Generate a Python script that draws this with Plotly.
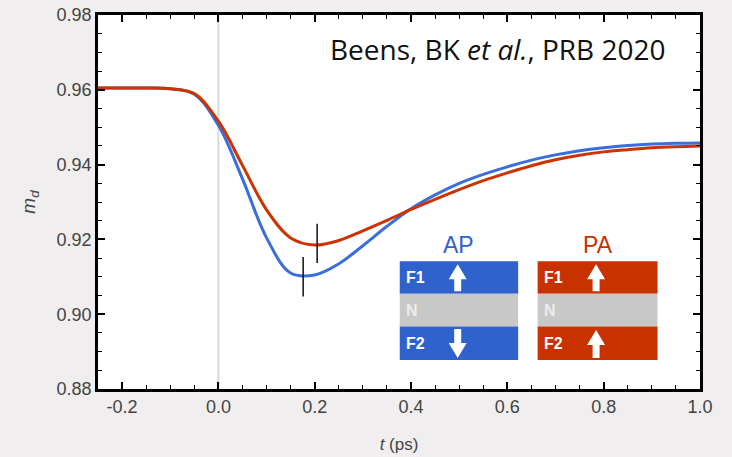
import plotly.graph_objects as go

# ---- data ----
t_ap = [-0.25, -0.20, -0.15, -0.10, -0.05, 0.00, 0.05, 0.10, 0.15, 0.20, 0.25, 0.30, 0.35,
        0.40, 0.45, 0.50, 0.55, 0.60, 0.65, 0.70, 0.75, 0.80, 0.85, 0.90, 0.95, 1.00]
m_ap = [0.9605, 0.9605, 0.9605, 0.9603, 0.9588, 0.9505, 0.9362, 0.9204, 0.9110, 0.9105, 0.9135, 0.9183,
        0.9235, 0.9282, 0.9319, 0.9350, 0.9374, 0.9394, 0.9412, 0.9426, 0.9437, 0.9445, 0.9451, 0.9455,
        0.9457, 0.9458]
t_pa = [-0.25, -0.20, -0.15, -0.10, -0.05, 0.00, 0.05, 0.10, 0.15, 0.20, 0.25, 0.30, 0.35,
        0.40, 0.45, 0.50, 0.55, 0.60, 0.65, 0.70, 0.75, 0.80, 0.85, 0.90, 0.95, 1.00]
m_pa = [0.9605, 0.9605, 0.9605, 0.9603, 0.9590, 0.9516, 0.9398, 0.9279, 0.9204, 0.9185, 0.9197, 0.9223,
        0.9251, 0.9280, 0.9307, 0.9333, 0.9357, 0.9378, 0.9397, 0.9413, 0.9425, 0.9434, 0.9440, 0.9445,
        0.9448, 0.9450]
# minimum markers: (t, low, high)
mark_t = [0.176, 0.205]
mark_lo = [0.9047, 0.9137]
mark_hi = [0.9153, 0.9242]

x_ticks = [-0.2, 0.0, 0.2, 0.4, 0.6, 0.8, 1.0]
x_ticklabels = ["-0.2", "0.0", "0.2", "0.4", "0.6", "0.8", "1.0"]
y_ticks = [0.88, 0.90, 0.92, 0.94, 0.96, 0.98]
y_ticklabels = ["0.88", "0.90", "0.92", "0.94", "0.96", "0.98"]

BLUE_LINE = "#3a6edc"
RED_LINE = "#cc3300"
BLUE_BOX = "#2f62cc"
RED_BOX = "#c83200"
GREY_BOX = "#c8c8c8"
TXT = "#444444"
FONT = "Liberation Sans, Arial"

W, H = 732, 457
L, R, T, B = 97.5, 700.0, 14.5, 389.0


def px(xp):
    return (xp - L) / (R - L)


def py(yp):
    return (B - yp) / (B - T)


fig = go.Figure()
fig.add_trace(go.Scatter(x=t_ap, y=m_ap, mode="lines",
                         line=dict(color=BLUE_LINE, width=3, shape="spline", smoothing=1.0),
                         showlegend=False, hoverinfo="skip"))
fig.add_trace(go.Scatter(x=t_pa, y=m_pa, mode="lines",
                         line=dict(color=RED_LINE, width=3, shape="spline", smoothing=1.0),
                         showlegend=False, hoverinfo="skip"))

shapes = []
# zero line
shapes.append(dict(type="line", xref="x", yref="paper", x0=0, x1=0, y0=0, y1=1,
                   line=dict(color="#d9d9d9", width=2), layer="below"))
for tt, lo, hi in zip(mark_t, mark_lo, mark_hi):
    shapes.append(dict(type="line", xref="x", yref="y", x0=tt, x1=tt, y0=lo, y1=hi,
                       line=dict(color="#111111", width=1.5)))


def rect(x0, x1, y0, y1, color):
    shapes.append(dict(type="rect", xref="paper", yref="paper", x0=px(x0), x1=px(x1), y0=py(y1), y1=py(y0),
                       fillcolor=color, line=dict(width=0), layer="above"))


def arrow(cx, top, bottom, up=True):
    hw, sw, head = 9.0, 3.5, 15.0
    if up:
        pts = [(cx, top), (cx + hw, top + head), (cx + sw, top + head), (cx + sw, bottom),
               (cx - sw, bottom), (cx - sw, top + head), (cx - hw, top + head)]
    else:
        pts = [(cx, bottom), (cx + hw, bottom - head), (cx + sw, bottom - head), (cx + sw, top),
               (cx - sw, top), (cx - sw, bottom - head), (cx - hw, bottom - head)]
    path = "M " + " L ".join(f"{px(a):.5f},{py(b):.5f}" for a, b in pts) + " Z"
    shapes.append(dict(type="path", xref="paper", yref="paper", path=path, fillcolor="white",
                       line=dict(width=0), layer="above"))


stacks = [(399.5, 518.0, BLUE_BOX, 457.5, False, "AP"), (537.5, 657.5, RED_BOX, 596.0, True, "PA")]
annotations = []
for x0, x1, col, acx, f2up, lab in stacks:
    rect(x0, x1, 261, 293.5, col)
    rect(x0, x1, 293.5, 326.5, GREY_BOX)
    rect(x0, x1, 326.5, 360, col)
    arrow(acx, 264, 291, up=True)
    if f2up:
        arrow(acx, 330, 358, up=True)
    else:
        arrow(acx, 329, 358, up=False)
    for txt, yc, c in [("F1", 277, "white"), ("N", 310, "#ececec"), ("F2", 343.5, "white")]:
        annotations.append(dict(text=f"<b>{txt}</b>", xref="paper", yref="paper", x=px(x0 + 4), y=py(yc),
                                xanchor="left", yanchor="middle", showarrow=False,
                                font=dict(family=FONT, size=16, color=c)))
    annotations.append(dict(text=lab, xref="paper", yref="paper", x=px((x0 + x1) / 2), y=py(245),
                            xanchor="center", yanchor="middle", showarrow=False,
                            font=dict(family=FONT, size=23,
                                      color=BLUE_BOX if lab == "AP" else RED_BOX)))

annotations.append(dict(text="Beens, BK <i>et al.</i>, PRB 2020", xref="paper", yref="paper",
                        x=px(668), y=py(49), xanchor="right", yanchor="middle", showarrow=False,
                        font=dict(family="Open Sans", size=28, color="#111111")))

axis_common = dict(showline=True, linecolor="black", linewidth=2.5, mirror="ticks", ticks="inside",
                   ticklen=7, tickwidth=1.5, tickcolor="black", showgrid=False, zeroline=False,
                   tickfont=dict(family=FONT, size=18, color=TXT))

fig.update_layout(
    width=W, height=H,
    margin=dict(l=L, r=W - R, t=T, b=H - B, autoexpand=False),
    paper_bgcolor="#f0eeee", plot_bgcolor="white",
    shapes=shapes, annotations=annotations,
    xaxis=dict(range=[-0.25, 1.0], tickvals=x_ticks, ticktext=x_ticklabels,
               minor=dict(ticks="inside", dtick=0.05, tick0=0, ticklen=4, tickwidth=1.2, tickcolor="black"),
               title=dict(text="<i>t</i> (ps)", standoff=22,
                          font=dict(family=FONT, size=17, color=TXT)),
               **axis_common),
    yaxis=dict(range=[0.88, 0.98], tickvals=y_ticks, ticktext=y_ticklabels,
               minor=dict(ticks="inside", dtick=0.005, tick0=0.88, ticklen=4, tickwidth=1.2, tickcolor="black"),
               title=dict(text="<i>m<sub>d</sub></i>", standoff=16,
                          font=dict(family=FONT, size=19, color=TXT)),
               **axis_common),
)

fig.write_html("out.html", config={"displayModeBar": False},
               post_script="document.body.style.margin='0';")
